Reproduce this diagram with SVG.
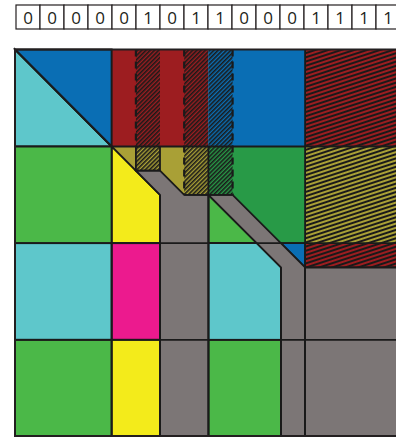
<svg xmlns="http://www.w3.org/2000/svg" width="396" height="437" viewBox="0 0 396 437">
<style>
.s{stroke:#1a1a1a;stroke-width:1.8;stroke-linejoin:miter}
.n{stroke:none}
.d{stroke:#1a1a1a;stroke-width:2.2;stroke-dasharray:7 5;fill:none}
.l{stroke:#1a1a1a;stroke-width:1.8;fill:none}
.bit{fill:#fff;stroke:#231f20;stroke-width:1.2}
.t{font-family:"Open Sans","Liberation Sans",sans-serif;font-size:17px;fill:#231f20;text-anchor:middle}
</style>
<defs>
<pattern id="hR" width="3" height="3" patternUnits="userSpaceOnUse" patternTransform="rotate(45)"><rect width="3" height="3" fill="#9d1d20"/><rect width="1.6" height="3" fill="#1a1a1a"/></pattern>
<pattern id="hB" width="3" height="3" patternUnits="userSpaceOnUse" patternTransform="rotate(45)"><rect width="3" height="3" fill="#0a6eb4"/><rect width="1.6" height="3" fill="#1a1a1a"/></pattern>
<pattern id="hO" width="3" height="3" patternUnits="userSpaceOnUse" patternTransform="rotate(45)"><rect width="3" height="3" fill="#a9a036"/><rect width="1.6" height="3" fill="#1a1a1a"/></pattern>
<pattern id="hG" width="3" height="3" patternUnits="userSpaceOnUse" patternTransform="rotate(45)"><rect width="3" height="3" fill="#289a47"/><rect width="1.6" height="3" fill="#1a1a1a"/></pattern>
<pattern id="sR" width="4" height="4" patternUnits="userSpaceOnUse" patternTransform="rotate(72)"><rect width="4" height="4" fill="#9d1d20"/><rect width="2" height="4" fill="#1a1a1a"/></pattern>
<pattern id="sO" width="4" height="4" patternUnits="userSpaceOnUse" patternTransform="rotate(72)"><rect width="4" height="4" fill="#a9a036"/><rect width="2" height="4" fill="#1a1a1a"/></pattern>
</defs>

<g id="bits">
<rect class="bit" x="16" y="5" width="24" height="24"/><text class="t" x="28" y="23.5">0</text>
<rect class="bit" x="40" y="5" width="24" height="24"/><text class="t" x="52" y="23.5">0</text>
<rect class="bit" x="64" y="5" width="24" height="24"/><text class="t" x="76" y="23.5">0</text>
<rect class="bit" x="88" y="5" width="24" height="24"/><text class="t" x="100" y="23.5">0</text>
<rect class="bit" x="112" y="5" width="24" height="24"/><text class="t" x="124" y="23.5">0</text>
<rect class="bit" x="136" y="5" width="24" height="24"/><text class="t" x="148" y="23.5">1</text>
<rect class="bit" x="160" y="5" width="24" height="24"/><text class="t" x="172" y="23.5">0</text>
<rect class="bit" x="184" y="5" width="24" height="24"/><text class="t" x="196" y="23.5">1</text>
<rect class="bit" x="208" y="5" width="24" height="24"/><text class="t" x="220" y="23.5">1</text>
<rect class="bit" x="232" y="5" width="24" height="24"/><text class="t" x="244" y="23.5">0</text>
<rect class="bit" x="256" y="5" width="24" height="24"/><text class="t" x="268" y="23.5">0</text>
<rect class="bit" x="280" y="5" width="24" height="24"/><text class="t" x="292" y="23.5">0</text>
<rect class="bit" x="304" y="5" width="24" height="24"/><text class="t" x="316" y="23.5">1</text>
<rect class="bit" x="328" y="5" width="24" height="24"/><text class="t" x="340" y="23.5">1</text>
<rect class="bit" x="352" y="5" width="24" height="24"/><text class="t" x="364" y="23.5">1</text>
<rect class="bit" x="376" y="5" width="24" height="24"/><text class="t" x="388" y="23.5">1</text>
</g>

<g id="row0">
<polygon class="s" fill="#5ec7cb" points="15,49.5 111.7,146.5 15,146.5"/>
<polygon class="s" fill="#0a6eb4" points="15,49.5 111.7,49.5 111.7,146.5"/>
<rect class="n" fill="#9d1d20" x="111.7" y="49.5" width="96.7" height="97"/>
<rect class="n" fill="url(#hR)" x="135.9" y="49.5" width="24.1" height="97"/>
<rect class="n" fill="url(#hR)" x="184.2" y="49.5" width="24.2" height="97"/>
<rect class="n" fill="#0a6eb4" x="208.4" y="49.5" width="96.7" height="97"/>
<rect class="n" fill="url(#hB)" x="208.4" y="49.5" width="24.2" height="97"/>
<rect class="n" fill="url(#sR)" x="305.1" y="49.5" width="92" height="97"/>
</g>

<g id="row1">
<rect class="n" fill="#4bb848" x="15" y="146.5" width="96.7" height="96.7"/>
<rect class="n" fill="#a9a036" x="111.7" y="146.5" width="96.7" height="48.4"/>
<rect class="n" fill="url(#hO)" x="135.9" y="146.5" width="24.1" height="24.2"/>
<rect class="n" fill="url(#hO)" x="184.2" y="146.5" width="24.2" height="48.4"/>
<polygon class="s" fill="#f3eb1b" points="111.7,146.5 160,194.9 160,243.2 111.7,243.2"/>
<rect class="n" fill="#289a47" x="208.4" y="146.5" width="96.7" height="96.7"/>
<rect class="n" fill="url(#hG)" x="208.4" y="146.5" width="24.2" height="48.4"/>
<polygon class="s" fill="#4bb848" points="208.4,194.9 256.8,243.2 208.4,243.2"/>
<rect class="n" fill="url(#sO)" x="305.1" y="146.5" width="92" height="96.7"/>
</g>

<g id="row2">
<rect class="s" fill="#5ec7cb" x="15" y="243.2" width="96.7" height="96.6"/>
<rect class="s" fill="#ec1a8e" x="111.7" y="243.2" width="48.3" height="96.6"/>
<polygon class="s" fill="#5ec7cb" points="208.4,243.2 256.8,243.2 281,267.4 281,339.8 208.4,339.8"/>
<polygon class="s" fill="#0a6eb4" points="281,243.2 305.1,243.2 305.1,267.4"/>
<rect class="n" fill="url(#sR)" x="305.1" y="243.2" width="92" height="24.2"/>
</g>

<g id="row3">
<rect class="s" fill="#4bb848" x="15" y="339.8" width="96.7" height="96.2"/>
<rect class="s" fill="#f3eb1b" x="111.7" y="339.8" width="48.3" height="96.2"/>
<rect class="s" fill="#4bb848" x="208.4" y="339.8" width="72.6" height="96.2"/>
</g>

<g id="paths">
<polygon class="s" fill="#7c7676" points="135.9,170.7 160,170.7 184.2,194.9 208.4,194.9 208.4,436 160,436 160,194.9"/>
<polygon class="s" fill="#7c7676" points="208.4,194.9 232.6,194.9 305.1,267.4 305.1,436 281,436 281,267.4"/>
<rect class="s" fill="#7c7676" x="305.1" y="267.4" width="95" height="168.6"/>
</g>

<g id="connectors">
<line class="l" x1="15" y1="146.5" x2="397" y2="146.5"/>
<line class="l" x1="15" y1="243.2" x2="397" y2="243.2"/>
<line class="l" x1="15" y1="339.8" x2="397" y2="339.8"/>
<line class="l" x1="111.7" y1="49.5" x2="111.7" y2="436"/>
<line class="l" x1="160" y1="194.9" x2="160" y2="436"/>
<line class="l" x1="208.4" y1="146.5" x2="208.4" y2="436"/>
<line class="l" x1="281" y1="267.4" x2="281" y2="436"/>
<line class="l" x1="305.1" y1="49.5" x2="305.1" y2="436"/>
<line class="l" x1="15" y1="49.5" x2="111.7" y2="146.5"/>
<polyline class="l" points="135.9,146.5 135.9,170.7 160,170.7 160,146.5"/>
<line class="l" x1="184.2" y1="194.9" x2="232.6" y2="194.9"/>
<line class="d" x1="135.9" y1="49.5" x2="135.9" y2="146.5"/>
<line class="d" x1="184.2" y1="49.5" x2="184.2" y2="194.9"/>
<line class="d" x1="232.6" y1="49.5" x2="232.6" y2="194.9"/>
<line class="l" x1="305.1" y1="267.4" x2="397" y2="267.4"/>
<rect x="15" y="49.5" width="384" height="386.5" fill="none" stroke="#231f20" stroke-width="2"/>
</g>
</svg>
